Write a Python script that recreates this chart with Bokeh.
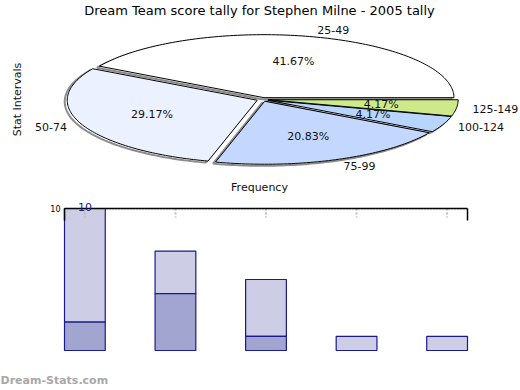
import math
from bokeh.plotting import figure
from bokeh.models import Label, Range1d
from bokeh.core.properties import value
from bokeh.embed import file_html
from bokeh.resources import INLINE

# ---- data ----
title_text = "Dream Team score tally for Stephen Milne - 2005 tally"
categories = ["25-49", "50-74", "75-99", "100-124", "125-149"]
counts = [10, 7, 5, 1, 1]
lower_part = [2, 4, 1, 0, 0]
slice_colors = ["#FFFFFF", "#EBF1FF", "#C4D8FF", "#B8D5FF", "#CDE98A"]
y_tick = [10]
watermark = "Dream-Stats.com"

FONT = "DejaVu Sans"
W, H = 520, 390

# ---- layout constants (pixels) ----
cx_px, cy_px = 262, 99          # pie centre
rx_px, ry_px = 190, 63          # pie radii
bar_left, bar_right = 64, 467   # bar plot area
bar_top, bar_bottom = 208, 350
bw = 0.45
n = len(categories)
xpos = list(range(n))
ymax = max(counts)

sx = (bar_right - bar_left) / (n - 1 + bw)
sy = (bar_bottom - bar_top) / ymax

p = figure(width=W, height=H, output_backend="svg", toolbar_location=None,
           x_range=Range1d(-cx_px / rx_px, (W - cx_px) / rx_px),
           y_range=Range1d(-(H - cy_px) / ry_px, cy_px / ry_px),
           min_border=0, min_border_left=0, min_border_right=0,
           min_border_top=0, min_border_bottom=0, outline_line_color=None)
p.axis.visible = False
p.grid.visible = False
p.extra_x_ranges = {"bx": Range1d(-bw / 2 - bar_left / sx, -bw / 2 + (W - bar_left) / sx)}
p.extra_y_ranges = {"by": Range1d(-(H - bar_bottom) / sy, ymax + bar_top / sy)}

# ---- pie (elliptical, exploded) ----
total = sum(counts)
explode = 0.03
start = 0.0
xs, ys, sxs, sys_ = [], [], [], []
lab = []
pct = []
for c, v in zip(categories, counts):
    ang = 2 * math.pi * v / total
    mid = start + ang / 2
    ox, oy = explode * math.cos(mid), explode * math.sin(mid)
    steps = max(4, int(ang / 0.02))
    px = [ox] + [ox + math.cos(start + ang * i / steps) for i in range(steps + 1)]
    py = [oy] + [oy + math.sin(start + ang * i / steps) for i in range(steps + 1)]
    xs.append(px)
    ys.append(py)
    sxs.append([q - 2.5 / rx_px for q in px])
    sys_.append([q - 1.5 / ry_px for q in py])
    lab.append((math.cos(mid) + ox, math.sin(mid) + oy, c,
                "left" if math.cos(mid) > 0 else "right",
                16 * math.cos(mid), 7 * math.sin(mid)))
    pct.append((0.6 * math.cos(mid) + ox, 0.6 * math.sin(mid) + oy,
                "%.2f%%" % (100.0 * v / total)))
    start += ang

p.patches(sxs, sys_, fill_color=None, line_color="#8C8C8C", line_width=2)
p.patches(xs, ys, fill_color=slice_colors, line_color="black", line_width=1)

for x, y, t, a, dx, dy in lab:
    p.add_layout(Label(x=x, y=y, x_offset=dx, y_offset=dy, text=t, text_align=a,
                       text_baseline="middle", text_font=FONT, text_font_size="11px",
                       text_color="#111111"))
for x, y, t in pct:
    p.add_layout(Label(x=x, y=y, text=t, text_align="center", text_baseline="middle",
                       text_font=FONT, text_font_size="11px", text_color="#111111"))

p.add_layout(Label(x=259, y=H - 10, x_units="screen", y_units="screen",
                   text=title_text, text_align="center", text_baseline="middle",
                   text_font=FONT, text_font_size="13px", text_color="black"))
p.add_layout(Label(x=17, y=H - 99, x_units="screen", y_units="screen",
                   text="Stat Intervals", angle=math.pi / 2, text_align="center",
                   text_baseline="middle", text_font=FONT, text_font_size="11px",
                   text_color="#111111"))
p.add_layout(Label(x=259, y=H - 187, x_units="screen", y_units="screen",
                   text="Frequency", text_align="center", text_baseline="middle",
                   text_font=FONT, text_font_size="11px", text_color="#111111"))

# ---- stacked bars ----
R = dict(x_range_name="bx", y_range_name="by")
p.vbar(x=xpos, bottom=lower_part, top=counts, width=bw,
       fill_color="#CDCDE5", line_color="#1A1A8C", line_width=1.2, **R)
p.vbar(x=xpos, bottom=0, top=lower_part, width=bw,
       fill_color="#A3A5D1", line_color="#1A1A8C", line_width=1.2, **R)

x0, x1 = -bw / 2, n - 1 + bw / 2
# dotted grid line just under the top edge and dotted tick marks at categories
p.segment(x0=[x0], y0=[ymax - 1.2 / sy], x1=[x1], y1=[ymax - 1.2 / sy],
          line_color="#BBBBBB", line_width=1, line_dash="1 2", **R)
p.segment(x0=xpos, y0=[ymax] * n, x1=xpos, y1=[ymax - 9 / sy] * n,
          line_color="#BBBBBB", line_width=2, line_dash="2 2", **R)
# top frame edge with short side stubs
p.segment(x0=[x0], y0=[ymax], x1=[x1], y1=[ymax], line_color="black",
          line_width=1.5, **R)
p.segment(x0=[x0, x1], y0=[ymax, ymax], x1=[x0, x1], y1=[ymax - 12 / sy] * 2,
          line_color="black", line_width=1.5, **R)
# y tick label
p.text(x=[x0] * len(y_tick), y=y_tick, text=[str(t) for t in y_tick],
       text_align="right", text_baseline="middle", x_offset=-4,
       text_font=value(FONT), text_font_size="8px", text_color="black", **R)
# value label over the tallest bar
imax = counts.index(ymax)
p.text(x=[xpos[imax]], y=[ymax], text=[str(ymax)], text_align="center",
       text_baseline="bottom", y_offset=2, text_font=value(FONT),
       text_font_size="11px", text_color="#1A1A8C", **R)

p.add_layout(Label(x=0, y=4, x_units="screen", y_units="screen", text=watermark,
                   text_align="left", text_baseline="bottom", text_font=FONT,
                   text_font_size="11px", text_font_style="bold", text_color="#A8A8A8"))

open("out.html", "w").write(file_html(p, INLINE))
